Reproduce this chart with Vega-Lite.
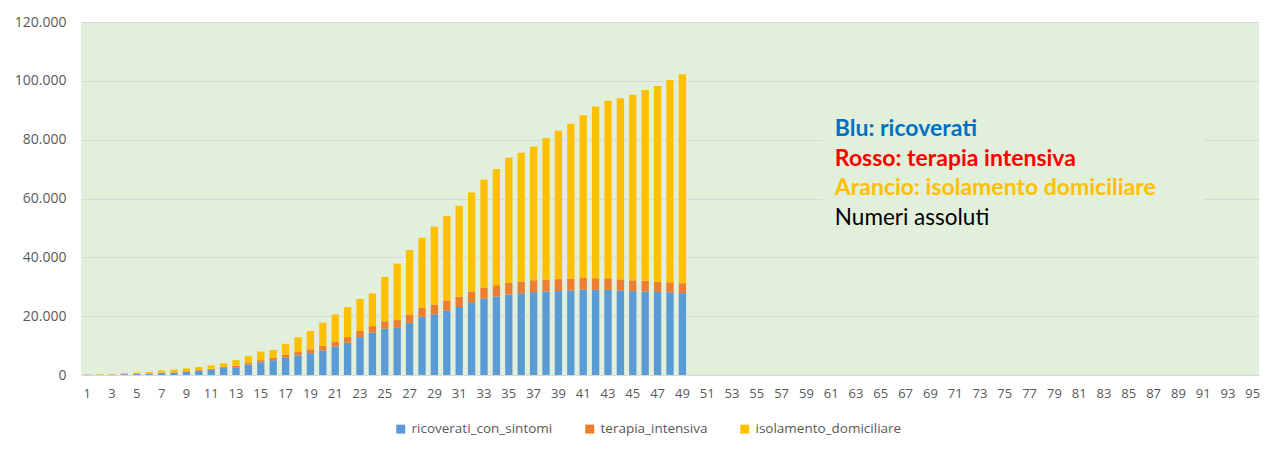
{
  "$schema": "https://vega.github.io/schema/vega-lite/v6.json",
  "autosize": {"type": "none"},
  "padding": {"left": 81, "top": 22, "right": 22, "bottom": 80},
  "width": 1178,
  "height": 353,
  "background": "#FFFFFF",
  "config": {
    "view": {"fill": "#E2EFDA", "stroke": null},
    "font": "Open Sans",
    "axis": {"labelFont": "Open Sans", "labelColor": "#595959", "ticks": false, "titleFont": "Open Sans"},
    "legend": {"labelFont": "Open Sans"}
  },
  "data": {
    "values": [
      {"giorno": 1, "ricoverati_con_sintomi": 101, "terapia_intensiva": 26, "isolamento_domiciliare": 94},
      {"giorno": 2, "ricoverati_con_sintomi": 114, "terapia_intensiva": 35, "isolamento_domiciliare": 162},
      {"giorno": 3, "ricoverati_con_sintomi": 128, "terapia_intensiva": 36, "isolamento_domiciliare": 221},
      {"giorno": 4, "ricoverati_con_sintomi": 248, "terapia_intensiva": 56, "isolamento_domiciliare": 284},
      {"giorno": 5, "ricoverati_con_sintomi": 345, "terapia_intensiva": 64, "isolamento_domiciliare": 412},
      {"giorno": 6, "ricoverati_con_sintomi": 401, "terapia_intensiva": 105, "isolamento_domiciliare": 543},
      {"giorno": 7, "ricoverati_con_sintomi": 639, "terapia_intensiva": 140, "isolamento_domiciliare": 798},
      {"giorno": 8, "ricoverati_con_sintomi": 742, "terapia_intensiva": 166, "isolamento_domiciliare": 927},
      {"giorno": 9, "ricoverati_con_sintomi": 1034, "terapia_intensiva": 229, "isolamento_domiciliare": 1000},
      {"giorno": 10, "ricoverati_con_sintomi": 1346, "terapia_intensiva": 295, "isolamento_domiciliare": 1065},
      {"giorno": 11, "ricoverati_con_sintomi": 1790, "terapia_intensiva": 351, "isolamento_domiciliare": 1155},
      {"giorno": 12, "ricoverati_con_sintomi": 2394, "terapia_intensiva": 462, "isolamento_domiciliare": 1060},
      {"giorno": 13, "ricoverati_con_sintomi": 2651, "terapia_intensiva": 567, "isolamento_domiciliare": 1843},
      {"giorno": 14, "ricoverati_con_sintomi": 3557, "terapia_intensiva": 650, "isolamento_domiciliare": 2180},
      {"giorno": 15, "ricoverati_con_sintomi": 4316, "terapia_intensiva": 733, "isolamento_domiciliare": 2936},
      {"giorno": 16, "ricoverati_con_sintomi": 5038, "terapia_intensiva": 877, "isolamento_domiciliare": 2599},
      {"giorno": 17, "ricoverati_con_sintomi": 5838, "terapia_intensiva": 1028, "isolamento_domiciliare": 3724},
      {"giorno": 18, "ricoverati_con_sintomi": 6650, "terapia_intensiva": 1153, "isolamento_domiciliare": 5036},
      {"giorno": 19, "ricoverati_con_sintomi": 7426, "terapia_intensiva": 1328, "isolamento_domiciliare": 6201},
      {"giorno": 20, "ricoverati_con_sintomi": 8372, "terapia_intensiva": 1518, "isolamento_domiciliare": 7860},
      {"giorno": 21, "ricoverati_con_sintomi": 9663, "terapia_intensiva": 1672, "isolamento_domiciliare": 9268},
      {"giorno": 22, "ricoverati_con_sintomi": 11025, "terapia_intensiva": 1851, "isolamento_domiciliare": 10197},
      {"giorno": 23, "ricoverati_con_sintomi": 12894, "terapia_intensiva": 2060, "isolamento_domiciliare": 10910},
      {"giorno": 24, "ricoverati_con_sintomi": 14363, "terapia_intensiva": 2257, "isolamento_domiciliare": 11108},
      {"giorno": 25, "ricoverati_con_sintomi": 15757, "terapia_intensiva": 2498, "isolamento_domiciliare": 15089},
      {"giorno": 26, "ricoverati_con_sintomi": 16020, "terapia_intensiva": 2655, "isolamento_domiciliare": 19185},
      {"giorno": 27, "ricoverati_con_sintomi": 17708, "terapia_intensiva": 2857, "isolamento_domiciliare": 21937},
      {"giorno": 28, "ricoverati_con_sintomi": 19846, "terapia_intensiva": 3009, "isolamento_domiciliare": 23783},
      {"giorno": 29, "ricoverati_con_sintomi": 20692, "terapia_intensiva": 3204, "isolamento_domiciliare": 26522},
      {"giorno": 30, "ricoverati_con_sintomi": 21937, "terapia_intensiva": 3396, "isolamento_domiciliare": 28697},
      {"giorno": 31, "ricoverati_con_sintomi": 23112, "terapia_intensiva": 3489, "isolamento_domiciliare": 30920},
      {"giorno": 32, "ricoverati_con_sintomi": 24753, "terapia_intensiva": 3612, "isolamento_domiciliare": 33648},
      {"giorno": 33, "ricoverati_con_sintomi": 26029, "terapia_intensiva": 3732, "isolamento_domiciliare": 36653},
      {"giorno": 34, "ricoverati_con_sintomi": 26676, "terapia_intensiva": 3856, "isolamento_domiciliare": 39533},
      {"giorno": 35, "ricoverati_con_sintomi": 27386, "terapia_intensiva": 3906, "isolamento_domiciliare": 42588},
      {"giorno": 36, "ricoverati_con_sintomi": 27795, "terapia_intensiva": 3981, "isolamento_domiciliare": 43752},
      {"giorno": 37, "ricoverati_con_sintomi": 28192, "terapia_intensiva": 4023, "isolamento_domiciliare": 45420},
      {"giorno": 38, "ricoverati_con_sintomi": 28403, "terapia_intensiva": 4035, "isolamento_domiciliare": 48134},
      {"giorno": 39, "ricoverati_con_sintomi": 28540, "terapia_intensiva": 4053, "isolamento_domiciliare": 50456},
      {"giorno": 40, "ricoverati_con_sintomi": 28741, "terapia_intensiva": 4068, "isolamento_domiciliare": 52579},
      {"giorno": 41, "ricoverati_con_sintomi": 29010, "terapia_intensiva": 3994, "isolamento_domiciliare": 55270},
      {"giorno": 42, "ricoverati_con_sintomi": 28949, "terapia_intensiva": 3977, "isolamento_domiciliare": 58320},
      {"giorno": 43, "ricoverati_con_sintomi": 28976, "terapia_intensiva": 3898, "isolamento_domiciliare": 60313},
      {"giorno": 44, "ricoverati_con_sintomi": 28718, "terapia_intensiva": 3792, "isolamento_domiciliare": 61557},
      {"giorno": 45, "ricoverati_con_sintomi": 28485, "terapia_intensiva": 3693, "isolamento_domiciliare": 63084},
      {"giorno": 46, "ricoverati_con_sintomi": 28399, "terapia_intensiva": 3605, "isolamento_domiciliare": 64873},
      {"giorno": 47, "ricoverati_con_sintomi": 28242, "terapia_intensiva": 3497, "isolamento_domiciliare": 66534},
      {"giorno": 48, "ricoverati_con_sintomi": 28144, "terapia_intensiva": 3381, "isolamento_domiciliare": 68744},
      {"giorno": 49, "ricoverati_con_sintomi": 27847, "terapia_intensiva": 3343, "isolamento_domiciliare": 71063}
    ]
  },
  "encoding": {
    "x": {
      "field": "giorno",
      "type": "ordinal",
      "scale": {
        "domain": [1,2,3,4,5,6,7,8,9,10,11,12,13,14,15,16,17,18,19,20,21,22,23,24,25,26,27,28,29,30,31,32,33,34,35,36,37,38,39,40,41,42,43,44,45,46,47,48,49,50,51,52,53,54,55,56,57,58,59,60,61,62,63,64,65,66,67,68,69,70,71,72,73,74,75,76,77,78,79,80,81,82,83,84,85,86,87,88,89,90,91,92,93,94,95],
        "paddingInner": 0.41,
        "paddingOuter": 0.205
      },
      "axis": {
        "title": null,
        "values": [1,3,5,7,9,11,13,15,17,19,21,23,25,27,29,31,33,35,37,39,41,43,45,47,49,51,53,55,57,59,61,63,65,67,69,71,73,75,77,79,81,83,85,87,89,91,93,95],
        "labelAngle": 0,
        "labelFontSize": 13,
        "labelPadding": 12,
        "domainColor": "#D9D9D9",
        "domainWidth": 1,
        "grid": false
      }
    }
  },
  "layer": [
    {
      "transform": [
        {"fold": ["ricoverati_con_sintomi", "terapia_intensiva", "isolamento_domiciliare"], "as": ["serie", "valore"]},
        {"calculate": "indexof(['ricoverati_con_sintomi', 'terapia_intensiva', 'isolamento_domiciliare'], datum.serie)", "as": "ordine"}
      ],
      "mark": {"type": "bar"},
      "encoding": {
        "y": {
          "field": "valore",
          "type": "quantitative",
          "stack": "zero",
          "scale": {"domain": [0, 120000], "nice": false},
          "axis": {
            "title": null,
            "values": [0, 20000, 40000, 60000, 80000, 100000, 120000],
            "labelExpr": "replace(format(datum.value, ','), ',', '.')",
            "labelFontSize": 14,
            "labelPadding": 15,
            "domain": false,
            "gridColor": "#D9D9D9",
            "gridWidth": 1
          }
        },
        "order": {"field": "ordine", "type": "quantitative", "sort": "ascending"},
        "color": {
          "field": "serie",
          "type": "nominal",
          "sort": ["ricoverati_con_sintomi", "terapia_intensiva", "isolamento_domiciliare"],
          "scale": {
            "domain": ["ricoverati_con_sintomi", "terapia_intensiva", "isolamento_domiciliare"],
            "range": ["#5B9BD5", "#ED7D31", "#FFC000"]
          },
          "legend": {
            "title": null,
            "orient": "none",
            "direction": "horizontal",
            "columns": 3,
            "legendX": 313,
            "legendY": 400,
            "symbolType": "square",
            "symbolSize": 81,
            "symbolStrokeWidth": 0,
            "labelFontSize": 13.5,
            "labelColor": "#595959",
            "labelOffset": 4,
            "columnPadding": 30
          }
        }
      }
    },
    {
      "data": {"values": [{"da": 60, "a": 91}]},
      "mark": {"type": "rect", "fill": "#E2EFDA"},
      "encoding": {
        "x": {"field": "da", "type": "ordinal", "bandPosition": 1},
        "x2": {"field": "a"},
        "y": {"datum": 95000, "type": "quantitative"},
        "y2": {"datum": 44000}
      }
    },
    {
      "data": {"values": [{}]},
      "mark": {"type": "text", "text": "Blu: ricoverati", "align": "left", "baseline": "middle", "fontSize": 23, "fontWeight": "bold", "color": "#0070C0", "font": "Lato"},
      "encoding": {"x": {"datum": 61, "type": "ordinal", "bandPosition": 1}, "y": {"datum": 83600, "type": "quantitative"}}
    },
    {
      "data": {"values": [{}]},
      "mark": {"type": "text", "text": "Rosso: terapia intensiva", "align": "left", "baseline": "middle", "fontSize": 23, "fontWeight": "bold", "color": "#FF0000", "font": "Lato"},
      "encoding": {"x": {"datum": 61, "type": "ordinal", "bandPosition": 1}, "y": {"datum": 73400, "type": "quantitative"}}
    },
    {
      "data": {"values": [{}]},
      "mark": {"type": "text", "text": "Arancio: isolamento domiciliare", "align": "left", "baseline": "middle", "fontSize": 23, "fontWeight": "bold", "color": "#FFC000", "font": "Lato"},
      "encoding": {"x": {"datum": 61, "type": "ordinal", "bandPosition": 1}, "y": {"datum": 63500, "type": "quantitative"}}
    },
    {
      "data": {"values": [{}]},
      "mark": {"type": "text", "text": "Numeri assoluti", "align": "left", "baseline": "middle", "fontSize": 22.5, "fontWeight": "normal", "color": "#000000", "font": "Lato"},
      "encoding": {"x": {"datum": 61, "type": "ordinal", "bandPosition": 1}, "y": {"datum": 53500, "type": "quantitative"}}
    }
  ]
}
